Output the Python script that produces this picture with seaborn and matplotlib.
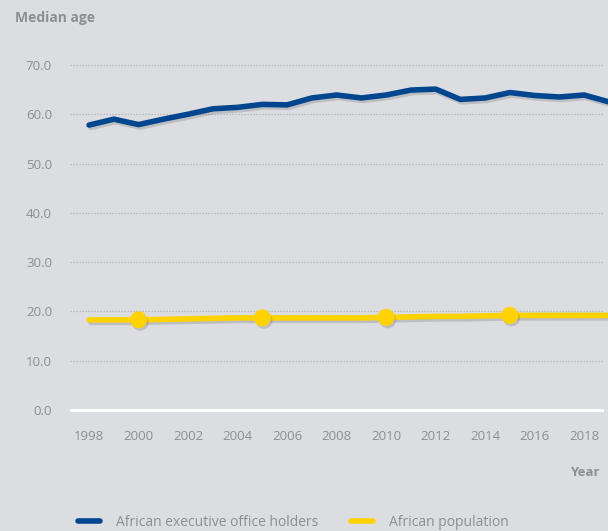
import matplotlib
matplotlib.use("Agg")
import matplotlib.pyplot as plt
import matplotlib.patheffects as pe
from matplotlib.lines import Line2D
import pandas as pd
import seaborn as sns

years = list(range(1998, 2020))
office_holders = [57.8, 59.0, 57.9, 59.0, 60.0, 61.1, 61.4, 62.0, 61.9, 63.3, 63.9,
                  63.3, 63.9, 64.9, 65.1, 63.0, 63.3, 64.4, 63.8, 63.5, 63.9, 62.5]
population = [18.3, 18.3, 18.3, 18.4, 18.5, 18.6, 18.7, 18.7, 18.7, 18.7, 18.7,
              18.7, 18.8, 18.9, 19.0, 19.0, 19.1, 19.2, 19.2, 19.2, 19.2, 19.2]
marker_years = [2000, 2005, 2010, 2015]
series_names = ["African executive office holders", "African population"]
y_ticks = [0, 10, 20, 30, 40, 50, 60, 70]
x_ticks = list(range(1998, 2019, 2))

BLUE = "#00468f"
YELLOW = "#ffd200"
BG = "#dcdde0"
TEXT = "#8d8e91"

df = pd.DataFrame({
    "Year": years * 2,
    "Median age": office_holders + population,
    "Series": [series_names[0]] * len(years) + [series_names[1]] * len(years),
})
dots = df[(df["Series"] == series_names[1]) & (df["Year"].isin(marker_years))]

sns.set_theme(style="white")
plt.rcParams["font.family"] = ["Open Sans", "DejaVu Sans"]

fig = plt.figure(figsize=(6.08, 5.31), dpi=100, facecolor=BG)
ax = fig.add_axes([70 / 608, (531 - 415) / 531, (604 - 70) / 608, 355 / 531])
ax.set_facecolor(BG)

shadow = [pe.SimpleLineShadow(offset=(1.2, -1.8), shadow_color="#6f7075", alpha=0.28),
          pe.Normal()]

sns.lineplot(data=df, x="Year", y="Median age", hue="Series",
             palette={series_names[0]: BLUE, series_names[1]: YELLOW},
             linewidth=4.0, legend=False, ax=ax, zorder=3)
for line in ax.get_lines():
    line.set_solid_capstyle("round")
    line.set_solid_joinstyle("round")
    line.set_clip_on(False)
    line.set_path_effects(shadow)

sns.scatterplot(data=dots, x="Year", y="Median age", color=YELLOW, s=150,
                edgecolor="none", legend=False, ax=ax, zorder=4)
for coll in ax.collections:
    coll.set_path_effects([pe.SimplePatchShadow(offset=(1.2, -1.8), shadow_rgbFace="#6f7075", alpha=0.28),
                           pe.Normal()])

ax.set_xlim(1997.23, 2018.8)
ax.set_ylim(-1, 71)
ax.set_yticks(y_ticks)
ax.set_yticklabels([f"{v:.1f}" for v in y_ticks])
ax.set_xticks(x_ticks)
ax.tick_params(axis="both", length=0, labelsize=9.5, labelcolor=TEXT)
ax.tick_params(axis="y", pad=13)
ax.tick_params(axis="x", pad=11)

for v in y_ticks[1:]:
    ax.axhline(v, color="#b0b1b4", linewidth=0.9, linestyle=(0, (1, 1.4)), zorder=1)
ax.axhline(0, color="white", linewidth=2.0, zorder=2)

for s in ax.spines.values():
    s.set_visible(False)
ax.set_xlabel("")
ax.set_ylabel("")

fig.text(15 / 608, 1 - 18 / 531, "Median age", ha="left", va="center",
         fontsize=10, fontweight="bold", color=TEXT)
fig.text(600 / 608, 1 - 472 / 531, "Year", ha="right", va="center",
         fontsize=9.5, fontweight="bold", color=TEXT)

handles = [Line2D([0], [0], color=BLUE, linewidth=4, solid_capstyle="round"),
           Line2D([0], [0], color=YELLOW, linewidth=4, solid_capstyle="round")]
fig.legend(handles, series_names, loc="center left",
           bbox_to_anchor=(78 / 608, 1 - 522 / 531), ncol=2, frameon=False,
           handlelength=1.6, handletextpad=1.1, columnspacing=2.4,
           fontsize=10, labelcolor=TEXT, borderaxespad=0, borderpad=0)

fig.savefig("out.png", dpi=100, facecolor=BG)
